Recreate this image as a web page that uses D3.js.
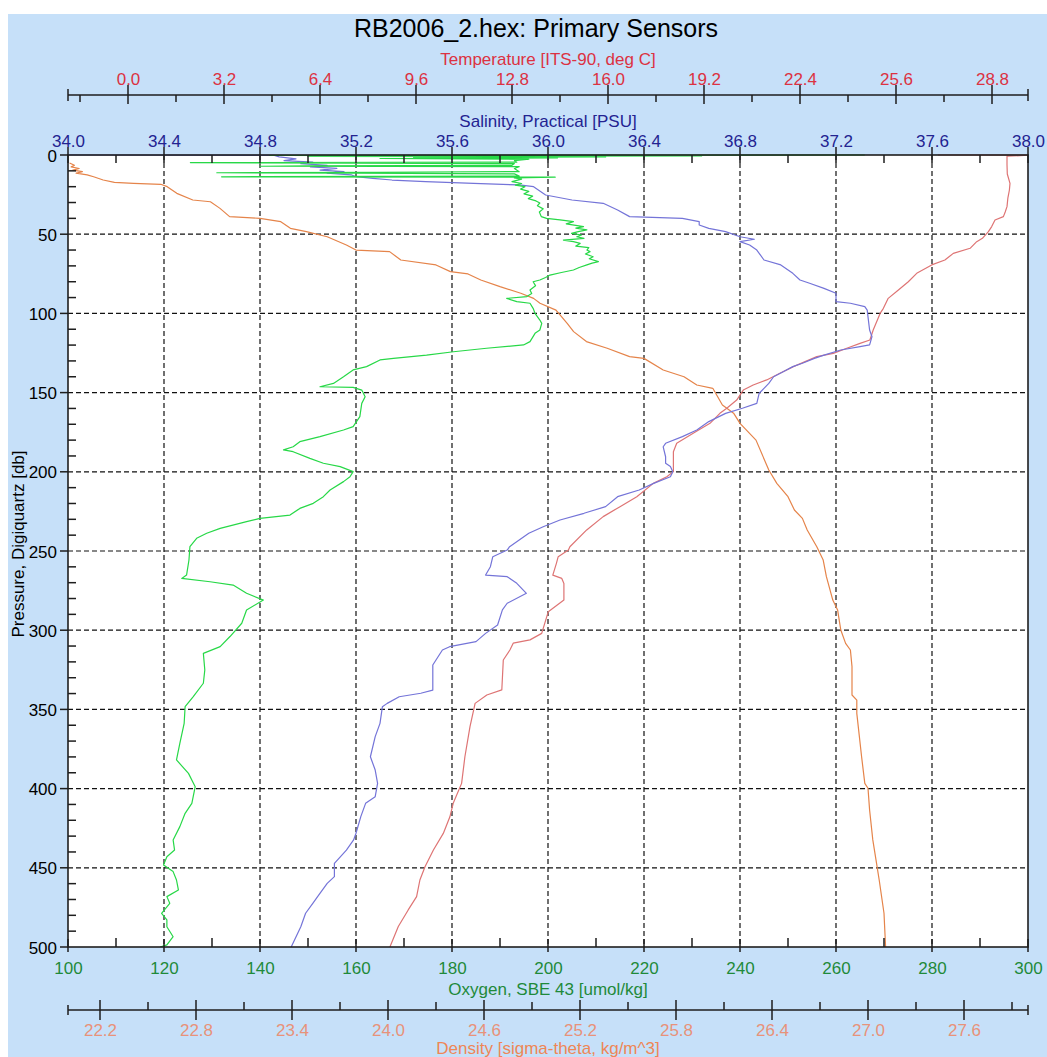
<!DOCTYPE html>
<html>
<head>
<meta charset="utf-8">
<script src="https://cdn.jsdelivr.net/npm/d3@7"></script>
<style>
  body { margin: 0; background: #ffffff; }
  svg text { font-family: "Liberation Sans", Arial, sans-serif; }
</style>
</head>
<body>
<svg id="chart" width="1047" height="1057"></svg>
<script>
// ---- CTD cast RB2006_2: primary sensor profiles, [pressure (db), value] ----
const salinityProfile = [[0,34.00],[0.2,34.86],[1.2,34.88],[2.5,34.95],[3.5,34.90],[4.5,35.02],[5.5,34.97],[6.5,35.08],[7.5,35.01],[8.5,35.12],[9.5,35.05],[10.5,35.15],[11.5,35.08],[12.5,35.18],[13.7,35.20],[14.7,35.27],[15.8,35.35],[16.8,35.49],[17.9,35.69],[18.9,35.88],[20,35.94],[25.25,35.99],[28.4,36.10],[30.5,36.23],[34.7,36.29],[38.9,36.34],[40,36.56],[42.1,36.63],[44.2,36.63],[46.3,36.67],[48.4,36.74],[51.6,36.80],[53.2,36.86],[54.7,36.80],[56.8,36.84],[60,36.87],[66.3,36.90],[69.4,36.97],[74.7,37.02],[78.9,37.05],[81,37.09],[84.2,37.15],[87.3,37.20],[92.6,37.20],[93.6,37.26],[95.7,37.32],[97.9,37.33],[110.5,37.34],[114.7,37.35],[119.9,37.34],[121,37.30],[123.1,37.22],[126.3,37.15],[128.4,37.11],[131.5,37.06],[133.6,37.02],[136.8,36.98],[140,36.94],[144.2,36.92],[147.3,36.90],[150.4,36.88],[156.8,36.87],[159.9,36.81],[163.1,36.74],[168.3,36.67],[173.6,36.62],[177.8,36.56],[182,36.49],[184.2,36.48],[190.5,36.49],[194.6,36.49],[196.7,36.51],[199.9,36.52],[203.1,36.51],[207.3,36.44],[211.5,36.38],[215.7,36.29],[222,36.24],[226.2,36.15],[230.4,36.05],[234.7,35.98],[238.8,35.92],[247.3,35.84],[249.4,35.83],[253.6,35.77],[259.9,35.76],[265.2,35.74],[266.2,35.83],[270.4,35.87],[276.7,35.91],[283,35.83],[287.2,35.81],[296.7,35.79],[302,35.74],[307.2,35.70],[310.4,35.59],[312.5,35.56],[322,35.52],[337.8,35.52],[339.8,35.47],[342,35.38],[346.2,35.33],[348.3,35.31],[358.8,35.30],[367.2,35.28],[379.9,35.26],[388.3,35.28],[396.7,35.29],[405.1,35.28],[409.3,35.24],[417.7,35.22],[428.2,35.20],[432.4,35.19],[438.8,35.16],[447.2,35.11],[455.6,35.11],[459.8,35.08],[468.2,35.04],[472.4,35.02],[478.7,34.99],[487.2,34.97],[500,34.93]];

const temperatureProfile = [[0,27.0],[0.1,30.0],[0.8,29.3],[6,29.3],[12,29.31],[17.9,29.4],[22.1,29.38],[27,29.33],[32.6,29.3],[36,29.24],[38.9,29.18],[41,28.9],[45.2,28.79],[48.4,28.68],[52.6,28.48],[54.7,28.29],[58.9,28.07],[62.1,27.51],[66.3,27.23],[69.4,26.79],[74.7,26.29],[80,26.01],[85.2,25.68],[90.5,25.34],[96.8,25.18],[100,25.07],[110.5,24.84],[116.8,24.73],[118.9,24.4],[122,23.96],[125.2,23.51],[127.3,22.96],[133.6,22.18],[137.8,21.73],[142,21.29],[145.2,20.84],[148.4,20.51],[154.7,20.29],[159.9,19.96],[163.1,19.73],[169.4,19.4],[175.7,18.84],[182,18.29],[187.3,18.18],[194.7,18.18],[199.9,18.18],[203.1,17.96],[207.3,17.51],[215.7,16.96],[222,16.4],[228.3,15.84],[236.7,15.29],[247.3,14.73],[249.4,14.68],[253.6,14.34],[257.8,14.28],[265.2,14.16],[267.3,14.46],[270.5,14.53],[281,14.53],[288.3,14.01],[302,13.79],[306.1,13.4],[308.2,12.84],[312.5,12.73],[318.8,12.51],[337.7,12.46],[340.9,11.96],[346.2,11.57],[360.9,11.4],[379.9,11.23],[396.7,11.12],[409.3,10.84],[417.8,10.73],[428.3,10.51],[438.8,10.18],[449.3,9.9],[457.7,9.73],[468.2,9.62],[476.6,9.34],[487.1,9.01],[500,8.73]];

const oxygenProfile = [[0,266],[0.3,142],[0.6,232],[0.9,150],[1.2,212],[1.5,172],[1.8,202],[2.2,165],[2.7,196],[3.5,193],[4.5,193.5],[4.8,125.5],[5.1,160],[5.4,193],[6.5,192.5],[6.8,150],[7.1,140],[7.4,194],[8.5,193],[10.5,194],[10.9,165],[11.2,131],[11.5,160],[11.9,193],[13.3,194],[13.6,140],[13.8,132],[14.0,201.5],[14.5,193],[15.2,194.5],[16.8,192.5],[18,194.5],[19,193.2],[20,195.2],[21.5,194.3],[23,196],[24.5,195],[26,196.8],[27.5,195.9],[29,197.5],[30.3,198.3],[32,197.8],[34,199.0],[36,198.2],[38.9,198.6],[40,199.7],[41,202.5],[42.1,205.3],[43.5,203.8],[45.2,207.4],[46.2,205.8],[47.3,208.1],[48.4,206.3],[49.5,204.9],[50.5,207],[51.6,206.0],[52.6,207.5],[53.7,203.2],[54.7,205.3],[55.8,206.7],[57.5,205.8],[58.5,208.5],[60,208.1],[61,208.75],[62.5,207.8],[64.2,209.4],[65.5,208.6],[67.3,210.5],[68.3,209.2],[69.4,208.1],[71,206.5],[72.6,205.3],[74.2,202.8],[75.8,200.4],[77.3,199.5],[78.9,198.3],[80,196.9],[82.5,197.4],[85.2,196.25],[87.5,196.6],[89.4,195.6],[90.5,191.4],[92.6,193.5],[93.6,196.25],[96.8,196.9],[100,197.3],[104.2,198.3],[106.3,198.7],[110.5,198.3],[112.6,197.3],[117.8,196.25],[119.9,194.9],[122,187.2],[124.2,180.3],[126.3,174.7],[128.4,167.8],[129.4,165],[133.6,162.2],[135.7,159.4],[140,157.4],[144.2,155.3],[146.3,152.5],[146.7,159.4],[148.4,161.2],[152.6,161.9],[156.8,161.2],[165.2,160.8],[171.5,159.4],[173.6,157.4],[177.8,152.5],[181,148.3],[184.2,146.9],[186.2,144.9],[187.3,146.9],[191.5,150.4],[194.6,153.2],[196.7,156.7],[199.9,159.4],[203.1,158.75],[206.2,157.4],[211.5,154.6],[215.7,153.2],[219.9,151.1],[223.1,148.3],[227.3,146.25],[229.4,140],[231.5,137.2],[235.7,131.7],[238.8,128.9],[242,126.8],[247.3,125.4],[255.7,125.2],[265.2,124.7],[267.3,123.7],[269.4,129.6],[271.5,134.4],[276.7,137.2],[281,140.7],[287.2,137.2],[295.6,136.2],[304,133.75],[310.4,131.7],[314.6,128.2],[325.1,128.5],[333.5,128.2],[342,126.1],[348.3,124.4],[358.8,124.2],[371.4,123.3],[381.9,122.6],[390.4,125.1],[398.8,126.5],[409.3,125.8],[415.6,124.4],[424,123.3],[432.4,121.9],[438.8,122.2],[443,120.6],[448.2,119.9],[452.4,121.9],[457.7,122.6],[464,123],[468.2,120.6],[472.4,121.2],[478.7,119.5],[482.9,120.6],[487.2,120.6],[493.5,121.9],[498.7,120.6],[500,119.2]];

const densityProfile = [[5,22.01],[6.5,22.04],[7.5,22.02],[8.5,22.07],[9.5,22.03],[10.5,22.09],[11.5,22.05],[12.5,22.12],[13.7,22.16],[15.8,22.22],[17.3,22.29],[17.9,22.41],[18.5,22.58],[20,22.62],[24.2,22.68],[28.4,22.78],[29.5,22.89],[33.7,22.95],[38.9,23.01],[40,23.2],[42.1,23.33],[46.3,23.39],[48.4,23.49],[51.6,23.62],[56.8,23.74],[60,23.8],[61,24.01],[66.3,24.08],[69.4,24.3],[73.6,24.39],[75.1,24.5],[78.9,24.58],[83.1,24.7],[87.3,24.83],[90.5,24.91],[93.6,24.95],[97.9,25.05],[106.3,25.12],[111.5,25.16],[117.8,25.24],[122,25.37],[127.3,25.51],[128.4,25.6],[135.7,25.72],[140,25.85],[145.2,25.93],[147.3,26.03],[157.8,26.09],[163,26.16],[169.4,26.2],[180,26.3],[198.9,26.38],[207.3,26.43],[215.7,26.5],[224.1,26.54],[229.4,26.59],[236.7,26.62],[247.3,26.68],[255.7,26.72],[266.2,26.74],[281,26.78],[287.2,26.81],[299.9,26.83],[308.3,26.86],[312.5,26.89],[323,26.9],[340.9,26.9],[344.1,26.93],[352.5,26.93],[379.9,26.96],[396.7,26.98],[399.8,27.0],[413.5,27.01],[432.4,27.03],[445,27.05],[457.7,27.07],[478.7,27.1],[500,27.11]];

// ---- axis ticks ----
const pressureTicks = [0,50,100,150,200,250,300,350,400,450,500];
const pressureMinor = [10,20,30,40,60,70,80,90,110,120,130,140,160,170,180,190,210,220,230,240,260,270,280,290,310,320,330,340,360,370,380,390,410,420,430,440,460,470,480,490];
const salinityTicks = [34.0,34.4,34.8,35.2,35.6,36.0,36.4,36.8,37.2,37.6,38.0];
const salinityMinor = [34.2,34.6,35.0,35.4,35.8,36.2,36.6,37.0,37.4,37.8];
const oxygenTicks = [100,120,140,160,180,200,220,240,260,280,300];
const oxygenMinor = [110,130,150,170,190,210,230,250,270,290];
const temperatureTicks = [0.0,3.2,6.4,9.6,12.8,16.0,19.2,22.4,25.6,28.8];
const temperatureMinor = [-1.6,1.6,4.8,8.0,11.2,14.4,17.6,20.8,24.0,27.2];
const densityTicks = [22.2,22.8,23.4,24.0,24.6,25.2,25.8,26.4,27.0,27.6];
const densityMinor = [22.5,23.1,23.7,24.3,24.9,25.5,26.1,26.7,27.3,27.9];

// ---- layout ----
const W = 1047, H = 1057;
const plot = { left: 68, right: 1028, top: 155, bottom: 947 };
const FONT = '"Liberation Sans", Arial, sans-serif';
const colors = {
  bg: "#c6e0f9",
  axis: "#1e1e1e",
  temp: "#dc3242", tempLine: "#de7474",
  sal: "#232391", salLine: "#7474d8",
  oxy: "#1f8a3a", oxyLine: "#27d847",
  dens: "#e8927a", densTitle: "#ee8656", densLine: "#e5844a"
};

const svg = d3.select("#chart");

svg.append("rect").attr("x", 8).attr("y", 14).attr("width", W - 8).attr("height", H - 14).attr("fill", colors.bg);
svg.append("rect").attr("x", plot.left).attr("y", plot.top)
  .attr("width", plot.right - plot.left).attr("height", plot.bottom - plot.top).attr("fill", "#ffffff");

// ---- scales ----
const y = d3.scaleLinear().domain([0, 500]).range([plot.top, plot.bottom]);
const xSal = d3.scaleLinear().domain([34, 38]).range([plot.left, plot.right]);
const xOxy = d3.scaleLinear().domain([100, 300]).range([plot.left, plot.right]);
const xTemp = d3.scaleLinear().domain([-2, 30]).range([plot.left, plot.right]);
const xDens = d3.scaleLinear().domain([22, 28]).range([plot.left, plot.right]);

// ---- dashed grid ----
const grid = svg.append("g").attr("stroke", "#111").attr("stroke-width", 1.2).attr("stroke-dasharray", "5,3");
grid.selectAll("line.v").data(salinityTicks.slice(1, -1)).join("line").attr("class", "v")
  .attr("x1", d => xSal(d)).attr("x2", d => xSal(d)).attr("y1", plot.top).attr("y2", plot.bottom);
grid.selectAll("line.h").data(pressureTicks.slice(1, -1)).join("line").attr("class", "h")
  .attr("x1", plot.left).attr("x2", plot.right).attr("y1", d => y(d)).attr("y2", d => y(d));

// ---- profiles ----
svg.append("clipPath").attr("id", "plotArea").append("rect")
  .attr("x", plot.left).attr("y", plot.top - 1)
  .attr("width", plot.right - plot.left).attr("height", plot.bottom - plot.top + 1);
const traces = svg.append("g").attr("clip-path", "url(#plotArea)");
function drawProfile(data, xs, color) {
  traces.append("path").datum(data)
    .attr("d", d3.line().x(d => xs(d[1])).y(d => y(d[0])))
    .attr("fill", "none").attr("stroke", color).attr("stroke-width", 1.2)
    .attr("stroke-linejoin", "round");
}
drawProfile(densityProfile, xDens, colors.densLine);
drawProfile(temperatureProfile, xTemp, colors.tempLine);
drawProfile(salinityProfile, xSal, colors.salLine);
drawProfile(oxygenProfile, xOxy, colors.oxyLine);

// ---- helpers for tick marks ----
function tickLines(g, vals, scale, y1, y2, horizontal) {
  g.append("g").attr("stroke", colors.axis).attr("stroke-width", 1.5)
    .selectAll("line").data(vals).join("line")
    .attr(horizontal ? "y1" : "x1", d => scale(d)).attr(horizontal ? "y2" : "x2", d => scale(d))
    .attr(horizontal ? "x1" : "y1", y1).attr(horizontal ? "x2" : "y2", y2);
}
function styleLabels(g, color) {
  g.select(".domain").remove();
  g.attr("font-family", FONT).attr("font-size", 17).attr("color", color);
}

// ---- temperature axis (top, detached) ----
const tY = 95;
const gT = svg.append("g").attr("transform", `translate(0,${tY})`);
gT.call(d3.axisTop(xTemp).tickValues(temperatureTicks).tickSize(0).tickPadding(10).tickFormat(d3.format(".1f")));
styleLabels(gT, colors.temp);
gT.append("line").attr("x1", plot.left).attr("x2", plot.right).attr("stroke", colors.axis).attr("stroke-width", 1.5);
tickLines(gT, temperatureTicks, xTemp, -10, 9, false);
tickLines(gT, temperatureMinor, xTemp, 0, 7, false);
tickLines(gT, xTemp.domain(), xTemp, -6, 6, false);

// ---- density axis (bottom, detached) ----
const dY = 1010;
const gD = svg.append("g").attr("transform", `translate(0,${dY})`);
gD.call(d3.axisBottom(xDens).tickValues(densityTicks).tickSize(0).tickPadding(14).tickFormat(d3.format(".1f")));
styleLabels(gD, colors.dens);
gD.append("line").attr("x1", plot.left).attr("x2", plot.right).attr("stroke", colors.axis).attr("stroke-width", 1.5);
tickLines(gD, densityTicks, xDens, -10, 10, false);
tickLines(gD, densityMinor, xDens, -8, 0, false);
tickLines(gD, xDens.domain(), xDens, -5, 5, false);

// ---- salinity axis (plot top) ----
const gS = svg.append("g").attr("transform", `translate(0,${plot.top})`);
gS.call(d3.axisTop(xSal).tickValues(salinityTicks).tickSize(0).tickPadding(8).tickFormat(d3.format(".1f")));
styleLabels(gS, colors.sal);
tickLines(gS, salinityTicks, xSal, -8, 8, false);
tickLines(gS, salinityMinor, xSal, 0, 8, false);

// ---- oxygen axis (plot bottom) ----
const gO = svg.append("g").attr("transform", `translate(0,${plot.bottom})`);
gO.call(d3.axisBottom(xOxy).tickValues(oxygenTicks).tickSize(0).tickPadding(15).tickFormat(d3.format("d")));
styleLabels(gO, colors.oxy);
tickLines(gO, oxygenTicks, xOxy, -8, 5, false);
tickLines(gO, oxygenMinor, xOxy, -9, 0, false);

// ---- pressure axis (left) ----
const gP = svg.append("g").attr("transform", `translate(${plot.left},0)`);
gP.call(d3.axisLeft(y).tickValues(pressureTicks).tickSize(0).tickPadding(11).tickFormat(d3.format("d")));
styleLabels(gP, "#000");
gP.selectAll(".tick text").attr("dy", "0.36em");
tickLines(gP, pressureTicks, y, -8, 0, true);
tickLines(gP, pressureMinor, y, 0, 8, true);

// ---- plot frame ----
svg.append("rect").attr("x", plot.left).attr("y", plot.top)
  .attr("width", plot.right - plot.left).attr("height", plot.bottom - plot.top)
  .attr("fill", "none").attr("stroke", colors.axis).attr("stroke-width", 1.6);

// ---- titles ----
function label(text, x, yPos, size, color, rotate) {
  const t = svg.append("text").text(text).attr("font-family", FONT).attr("font-size", size)
    .attr("fill", color).attr("text-anchor", "middle");
  if (rotate) t.attr("transform", `translate(${x},${yPos}) rotate(-90)`);
  else t.attr("x", x).attr("y", yPos);
}
const midX = (plot.left + plot.right) / 2;
label("RB2006_2.hex: Primary Sensors", 536, 37, 25, "#000");
label("Temperature [ITS-90, deg C]", midX, 65, 17, colors.temp);
label("Salinity, Practical [PSU]", midX, 127, 17, colors.sal);
label("Oxygen, SBE 43 [umol/kg]", midX, 995, 17, colors.oxy);
label("Density [sigma-theta, kg/m^3]", midX, 1054, 17, colors.densTitle);
label("Pressure, Digiquartz [db]", 24, 544, 17, "#000", true);
</script>
</body>
</html>
